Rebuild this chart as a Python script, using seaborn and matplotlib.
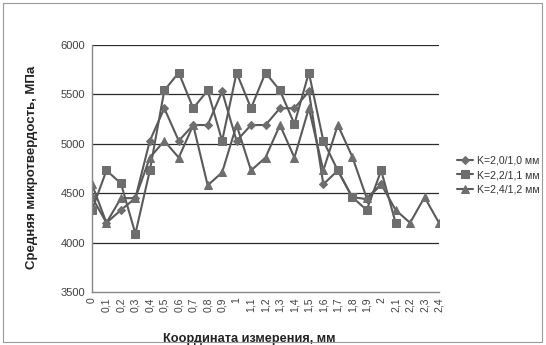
import matplotlib
matplotlib.use("Agg")
import matplotlib.pyplot as plt
import seaborn as sns
import numpy as np
import pandas as pd
from matplotlib.patches import Rectangle

# ---- Data ----
coord_labels = ["0", "0,1", "0,2", "0,3", "0,4", "0,5", "0,6", "0,7", "0,8", "0,9",
                "1", "1,1", "1,2", "1,3", "1,4", "1,5", "1,6", "1,7", "1,8", "1,9",
                "2", "2,1", "2,2", "2,3", "2,4"]

k20 = [4460, 4200, 4330, 4450, 5030, 5360, 5030, 5190, 5190, 5530,
       5030, 5190, 5190, 5360, 5360, 5530, 4590, 4730, 4460, 4440, 4590]
k22 = [4330, 4730, 4600, 4090, 4730, 5540, 5720, 5360, 5540, 5030,
       5720, 5360, 5720, 5540, 5200, 5720, 5030, 4730, 4460, 4330, 4730, 4200]
k24 = [4590, 4200, 4450, 4450, 4860, 5030, 4860, 5190, 4580, 4710,
       5190, 4730, 4860, 5190, 4860, 5360, 4730, 5190, 4870, 4450,
       4590, 4330, 4200, 4460, 4200]

series_names = ["K=2,0/1,0 мм", "K=2,2/1,1 мм", "K=2,4/1,2 мм"]
series_values = [k20, k22, k24]
series_markers = ["D", "s", "^"]
series_msizes = [4, 5.5, 5.5]

sns.set_style("white")
plt.rcParams["font.family"] = ["Liberation Sans", "DejaVu Sans"]

fig = plt.figure(figsize=(5.46, 3.45), dpi=100)
W, H = 546, 345
ax = fig.add_axes([92 / W, 1 - 292 / H, (439 - 92) / W, (292 - 45) / H])

line_col = "#5a5a5a"
for name, vals, mk, ms in zip(series_names, series_values, series_markers, series_msizes):
    df = pd.DataFrame({"x": np.arange(len(vals)), "y": vals})
    sns.lineplot(data=df, x="x", y="y", ax=ax, color=line_col, linewidth=1.5,
                 marker=mk, markersize=ms, markerfacecolor="#6e6e6e",
                 markeredgecolor="#6e6e6e", label=name)

ax.set_xlim(0, len(coord_labels) - 1)
ax.set_ylim(3500, 6000)
ax.set_yticks(np.arange(3500, 6001, 500))
ax.set_xticks(np.arange(len(coord_labels)))
ax.set_xticklabels(coord_labels, rotation=90, fontsize=7.5, color="#404040")
ax.tick_params(axis="y", labelsize=8, labelcolor="#404040")
ax.tick_params(axis="both", direction="inout", length=6, width=0.8, color="#888888", pad=2)
ax.tick_params(axis="x", pad=1)

for v in range(4000, 6001, 500):
    ax.axhline(v, color="#2a2a2a", linewidth=0.9, zorder=0)

for s in ["top", "right"]:
    ax.spines[s].set_visible(False)
for s in ["left", "bottom"]:
    ax.spines[s].set_color("#888888")
    ax.spines[s].set_linewidth(1.0)

ax.set_xlabel("Координата измерения, мм", fontsize=9.2, fontweight="bold", color="#222222")
ax.set_ylabel("Средняя микротвердость, МПа", fontsize=9.5, fontweight="bold", color="#222222")
ax.xaxis.set_label_coords((249 - 92) / 347, (292 - 333) / 247)
ax.yaxis.set_label_coords((38 - 92) / 347, 0.505)

leg = ax.legend(loc="center left", bbox_to_anchor=(447 / W, 1 - 175 / H),
                bbox_transform=fig.transFigure, frameon=False, fontsize=7.6,
                handlelength=1.6, handletextpad=0.3, labelspacing=0.45)
for t in leg.get_texts():
    t.set_color("#333333")

fig.patches.append(Rectangle((3 / W, 3 / H), (W - 7) / W, (H - 6) / H,
                             transform=fig.transFigure, fill=False,
                             edgecolor="#9a9a9a", linewidth=0.8))

fig.savefig("out.png", dpi=100)
plt.close(fig)
